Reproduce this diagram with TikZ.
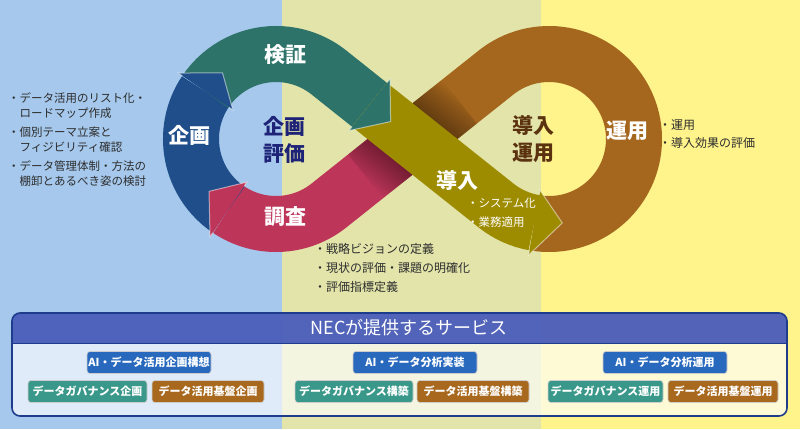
\documentclass[tikz,border=0pt]{standalone}
\usepackage{fontspec}
\setmainfont{Noto Sans CJK JP}
\usetikzlibrary{calc}

\definecolor{bgblue}{RGB}{165,200,236}
\definecolor{bgkhaki}{RGB}{226,228,170}
\definecolor{bgyellow}{RGB}{255,243,140}
\definecolor{kikaku}{RGB}{31,78,138}
\definecolor{kensho}{RGB}{45,115,105}
\definecolor{chosa}{RGB}{190,53,90}
\definecolor{donyu}{RGB}{158,140,0}
\definecolor{unyo}{RGB}{165,103,30}
\definecolor{navytxt}{RGB}{30,35,120}
\definecolor{browntxt}{RGB}{90,50,15}
\definecolor{bartitle}{RGB}{60,80,180}
\definecolor{boxline}{RGB}{30,60,140}
\definecolor{btnblue}{RGB}{40,105,190}
\definecolor{btnteal}{RGB}{58,152,138}
\definecolor{btnbrown}{RGB}{168,105,30}
\definecolor{bultxt}{RGB}{45,45,45}

\begin{document}
\begin{tikzpicture}[x=1pt,y=-1pt,
    band/.style={line width=56pt},
    rim/.style={white,opacity=0.5,line width=1pt},
    stage/.style={text=white,font=\fontsize{21}{24}\selectfont\bfseries},
    hub/.style={align=center,font=\fontsize{21}{27}\selectfont\bfseries},
    bul/.style={anchor=west,inner sep=0pt,text=bultxt,font=\fontsize{11.5}{13}\selectfont},
    btn/.style={rounded corners=3pt,draw=black!20,line width=0.6pt,minimum height=22pt,
      inner sep=0pt,text=white,font=\fontsize{11}{12}\selectfont\bfseries}]
  \useasboundingbox (0,0) rectangle (800,429);
  % background bands
  \fill[bgblue] (0,0) rectangle (282,429);
  \fill[bgkhaki] (282,0) rectangle (541,429);
  \fill[bgyellow] (541,0) rectangle (800,429);

  \coordinate (c1) at (276,139);
  \coordinate (c2) at (549,139);
  \coordinate (x) at (412.5,139);

  % loop
  \draw[band,unyo] ($(c2)+(100:85)$) arc[start angle=100,end angle=-128.5,radius=85] -- (x);
  \draw[band,chosa] (x) -- ($(c1)+(51.5:85)$) arc[start angle=51.5,end angle=124,radius=85];
  \draw[band,kikaku] ($(c1)+(124:85)$) arc[start angle=124,end angle=214,radius=85];
  \draw[band,kensho] ($(c1)+(214:85)$) arc[start angle=214,end angle=308.5,radius=85] -- ($(x)+(218.5:55)$);
  % shadow at the crossing
  \begin{scope}
    \clip ($(x)+(141.5:60)+(51.5:28)$) -- ($(x)+(141.5:60)+(231.5:28)$)
      -- ($(x)+(321.5:60)+(231.5:28)$) -- ($(x)+(321.5:60)+(51.5:28)$) -- cycle;
    \foreach \w in {60,66,...,126}
      \draw[line width=\w pt,black,opacity=0.035] ($(x)+(218.5:70)$) -- ($(x)+(38.5:70)$);
  \end{scope}
  \draw[band,donyu] ($(x)+(218.5:55)$) -- ($(c2)+(128.5:85)$) arc[start angle=128.5,end angle=100,radius=85];

  % arrow heads
  \fill[chosa] ($(c1)+(124:52)$) -- ($(c1)+(124:118)$) -- ($(c1)+(142:85)$) -- cycle;
  \draw[rim] ($(c1)+(124:57)$) -- ($(c1)+(124:52)$) -- ($(c1)+(142:85)$) -- ($(c1)+(124:118)$) -- ($(c1)+(124:113)$);
  \fill[kikaku] ($(c1)+(214:52)$) -- ($(c1)+(214:118)$) -- ($(c1)+(231:85)$) -- cycle;
  \draw[rim] ($(c1)+(214:57)$) -- ($(c1)+(214:52)$) -- ($(c1)+(231:85)$) -- ($(c1)+(214:118)$) -- ($(c1)+(214:113)$);
  \fill[kensho] ($(x)+(218.5:55)+(308.5:33)$) -- ($(x)+(218.5:55)+(128.5:33)$) -- ($(x)+(218.5:28)$) -- cycle;
  \draw[rim] ($(x)+(218.5:55)+(308.5:28)$) -- ($(x)+(218.5:55)+(308.5:33)$) -- ($(x)+(218.5:28)$)
    -- ($(x)+(218.5:55)+(128.5:33)$) -- ($(x)+(218.5:55)+(128.5:28)$);
  \fill[donyu] ($(c2)+(100:52)$) -- ($(c2)+(100:118)$) -- ($(c2)+(81:85)$) -- cycle;
  \draw[rim] ($(c2)+(100:57)$) -- ($(c2)+(100:52)$) -- ($(c2)+(81:85)$) -- ($(c2)+(100:118)$) -- ($(c2)+(100:113)$);

  % stage labels
  \node[stage] (kenshoL) at (285,55) {検証};
  \node[stage] (kikakuL) at (189,135) {企画};
  \node[stage] (chosaL) at (285,217) {調査};
  \node[stage] (donyuL) at (457,180) {導入};
  \node[stage] (unyoL) at (627,131) {運用};
  \node[hub,text=navytxt] (hubL) at (284,140) {企画\\評価};
  \node[hub,text=browntxt] (hubR) at (533,139) {導入\\運用};

  % notes
  \node[bul] (kikaku1) at (8,98) {・データ活用のリスト化・};
  \node[bul] (kikaku1b) at (19.5,113) {ロードマップ作成};
  \node[bul] (kikaku2) at (8,132) {・個別テーマ立案と};
  \node[bul] (kikaku2b) at (19.5,147) {フィジビリティ確認};
  \node[bul] (kikaku3) at (8,166) {・データ管理体制・方法の};
  \node[bul] (kikaku3b) at (19.5,181) {棚卸とあるべき姿の検討};
  \node[bul,font=\fontsize{12}{14}\selectfont] (chosa1) at (314,249) {・戦略ビジョンの定義};
  \node[bul,font=\fontsize{12}{14}\selectfont] (chosa2) at (314,268) {・現状の評価・課題の明確化};
  \node[bul,font=\fontsize{12}{14}\selectfont] (chosa3) at (314,287) {・評価指標定義};
  \node[bul,font=\fontsize{12}{14}\selectfont] (unyo1) at (659,125) {・運用};
  \node[bul,font=\fontsize{12}{14}\selectfont] (unyo2) at (659,143) {・導入効果の評価};
  \node[bul,text=white] (donyu1) at (467,203) {・システム化};
  \node[bul,text=white] (donyu2) at (467,222) {・業務適用};

  % service box
  \fill[white,opacity=0.65,rounded corners=8pt] (12,313) rectangle (787,416);
  \begin{scope}
    \clip[rounded corners=8pt] (12,313) rectangle (787,416);
    \fill[bartitle,opacity=0.88] (12,313) rectangle (787,343);
  \end{scope}
  \draw[boxline,line width=0.8pt] (12,343) -- (787,343);
  \draw[boxline,line width=1.6pt,rounded corners=8pt] (12,313) rectangle (787,416);
  \node[text=white,font=\fontsize{18}{20}\selectfont] (svc) at (409,328) {NECが提供するサービス};

  \node[btn,fill=btnblue,minimum width=124pt] (plan) at (149,362.5) {AI・データ活用企画構想};
  \node[btn,fill=btnteal,minimum width=119pt] (govplan) at (87.5,391.5) {データガバナンス企画};
  \node[btn,fill=btnbrown,minimum width=112pt] (baseplan) at (208,391.5) {データ活用基盤企画};
  \node[btn,fill=btnblue,minimum width=124pt] (impl) at (415,362.5) {AI・データ分析実装};
  \node[btn,fill=btnteal,minimum width=118pt] (govbuild) at (354,391.5) {データガバナンス構築};
  \node[btn,fill=btnbrown,minimum width=112pt] (basebuild) at (473,391.5) {データ活用基盤構築};
  \node[btn,fill=btnblue,minimum width=124pt] (ops) at (665,362.5) {AI・データ分析運用};
  \node[btn,fill=btnteal,minimum width=115pt] (govops) at (605.5,391.5) {データガバナンス運用};
  \node[btn,fill=btnbrown,minimum width=110pt] (baseops) at (723,391.5) {データ活用基盤運用};
\end{tikzpicture}
\end{document}
